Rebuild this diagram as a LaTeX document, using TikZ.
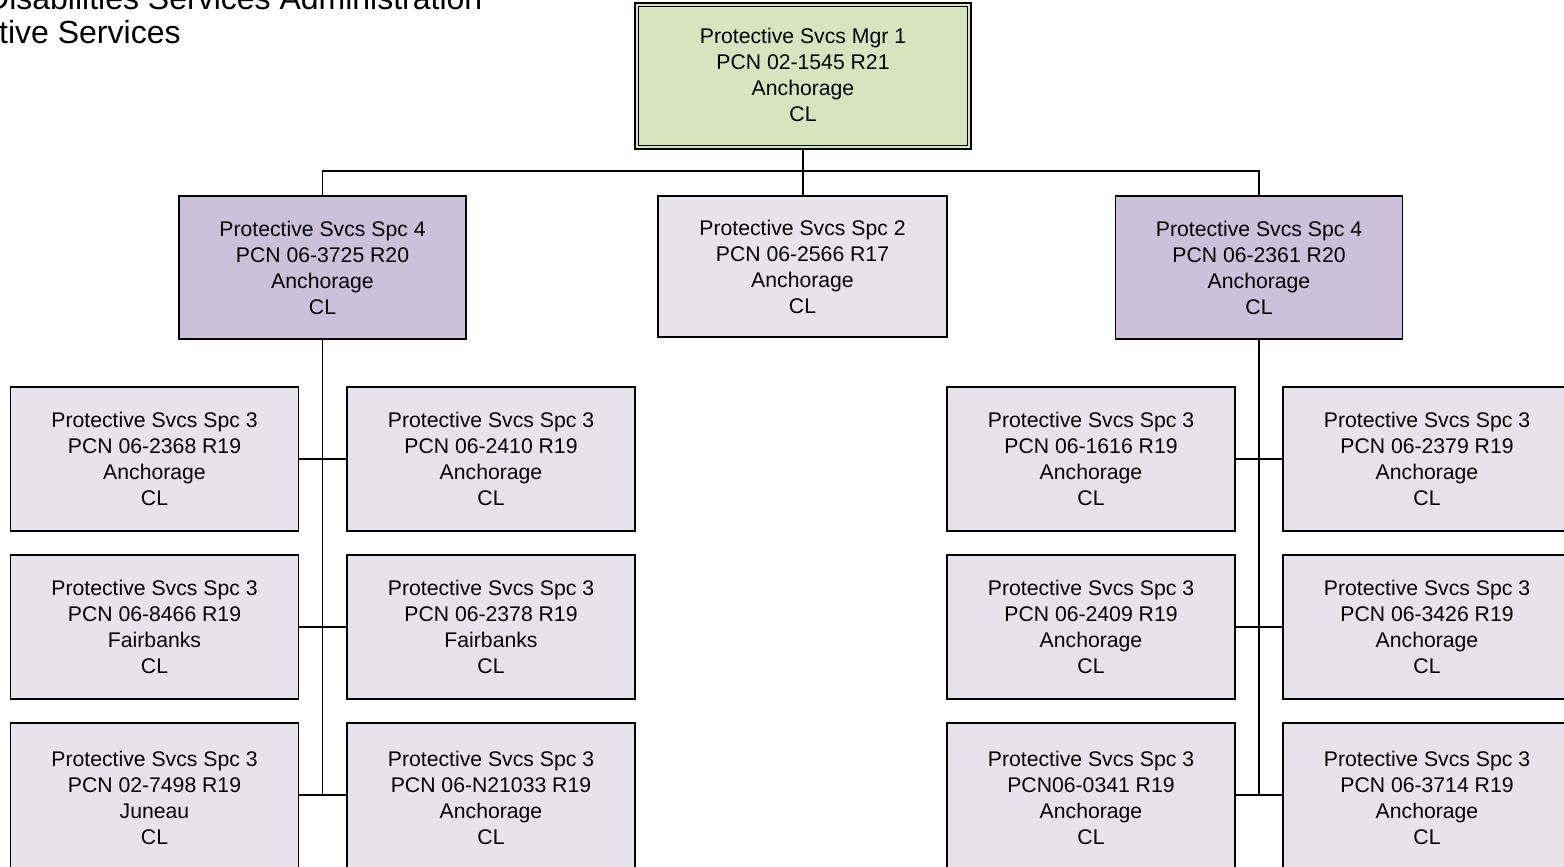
\documentclass[tikz,border=0pt]{standalone}
\usepackage{fontspec}
\setmainfont{Liberation Sans}
\definecolor{mgrgreen}{RGB}{215,228,189}
\definecolor{supvpurple}{RGB}{204,192,218}
\definecolor{staffgray}{RGB}{231,227,236}
\begin{document}
\begin{tikzpicture}[x=1pt,y=-1pt,
  box/.style={draw=black,line width=1.6pt,minimum width=288pt,minimum height=144pt,
     inner sep=0pt,align=center,font=\fontsize{21.2}{26}\selectfont},
  staffbox/.style={box,fill=staffgray},
  lowbox/.style={staffbox,minimum height=150pt},
  supvbox/.style={box,fill=supvpurple,minimum width=287pt,minimum height=143pt},
  link/.style={line width=1.6pt,draw=black}]
\useasboundingbox (0,0) rectangle (1564,867);
% title
\node[anchor=base west,inner sep=0pt,font=\fontsize{32}{34}\selectfont] (t1) at (-14,10) {Disabilities Services Administration};
\node[anchor=base west,inner sep=0pt,font=\fontsize{32}{34}\selectfont] (t2) at (-1,44) {tive Services};
% manager box with double border
\node[box,fill=mgrgreen,minimum width=336pt,minimum height=146pt,line width=1.6pt] (mgr) at (803,76) {};
\draw[line width=1.2pt] ([xshift=4pt,yshift=-4pt]mgr.north west) rectangle ([xshift=-4pt,yshift=4pt]mgr.south east);
\node[align=center,font=\fontsize{21.2}{26}\selectfont,inner sep=0pt] (mgrt) at (803,75) {Protective Svcs Mgr 1\\PCN 02-1545 R21\\Anchorage\\CL};
% level 2
\node[supvbox] (sa) at (322.5,267.5) {Protective Svcs Spc 4\\PCN 06-3725 R20\\Anchorage\\CL};
\node[staffbox,minimum width=289pt,minimum height=141pt] (sm) at (802.5,266.5) {Protective Svcs Spc 2\\PCN 06-2566 R17\\Anchorage\\CL};
\node[supvbox] (sb) at (1259,267.5) {Protective Svcs Spc 4\\PCN 06-2361 R20\\Anchorage\\CL};
% connectors level 1-2
\coordinate (bus) at (803,171);
\draw[link] (mgr.south) -- (bus);
\draw[link] (sa.north) |- (bus) -| (sb.north);
\draw[link] (bus) -- (bus |- sm.north);
% left group
\node[staffbox] (a1) at (154.5,459) {Protective Svcs Spc 3\\PCN 06-2368 R19\\Anchorage\\CL};
\node[staffbox] (a2) at (491,459) {Protective Svcs Spc 3\\PCN 06-2410 R19\\Anchorage\\CL};
\node[staffbox] (a3) at (154.5,627) {Protective Svcs Spc 3\\PCN 06-8466 R19\\Fairbanks\\CL};
\node[staffbox] (a4) at (491,627) {Protective Svcs Spc 3\\PCN 06-2378 R19\\Fairbanks\\CL};
\node[lowbox] (a5) at (154.5,798) {Protective Svcs Spc 3\\PCN 02-7498 R19\\Juneau\\CL};
\node[lowbox] (a6) at (491,798) {Protective Svcs Spc 3\\PCN 06-N21033 R19\\Anchorage\\CL};
\coordinate (ja) at (322.5,795);
\draw[link] (sa.south) -- (ja);
\draw[link] (a1.east) -- (a2.west);
\draw[link] (a3.east) -- (a4.west);
\draw[link] (a5.east |- ja) -- (a6.west |- ja);
% right group
\node[staffbox] (b1) at (1091,459) {Protective Svcs Spc 3\\PCN 06-1616 R19\\Anchorage\\CL};
\node[staffbox] (b2) at (1427,459) {Protective Svcs Spc 3\\PCN 06-2379 R19\\Anchorage\\CL};
\node[staffbox] (b3) at (1091,627) {Protective Svcs Spc 3\\PCN 06-2409 R19\\Anchorage\\CL};
\node[staffbox] (b4) at (1427,627) {Protective Svcs Spc 3\\PCN 06-3426 R19\\Anchorage\\CL};
\node[lowbox] (b5) at (1091,798) {Protective Svcs Spc 3\\PCN06-0341 R19\\Anchorage\\CL};
\node[lowbox] (b6) at (1427,798) {Protective Svcs Spc 3\\PCN 06-3714 R19\\Anchorage\\CL};
\coordinate (jb) at (1259,795);
\draw[link] (sb.south) -- (jb);
\draw[link] (b1.east) -- (b2.west);
\draw[link] (b3.east) -- (b4.west);
\draw[link] (b5.east |- jb) -- (b6.west |- jb);
\end{tikzpicture}
\end{document}
